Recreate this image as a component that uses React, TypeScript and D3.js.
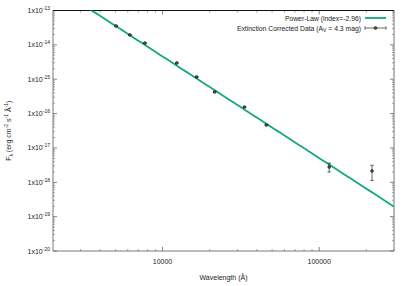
import React from 'react';
import * as d3 from 'd3';

// photometry, extinction corrected (A_V = 4.3 mag)
const bands = ['V', 'R', 'I', 'J', 'H', 'K', 'W1', 'W2', 'W3', 'W4'];
const wavelength = [5050, 6190, 7720, 12330, 16520, 21500, 33350, 46030, 115800, 217300];
const flux = [3.54e-14, 1.94e-14, 1.13e-14, 2.96e-15, 1.16e-15, 4.25e-16, 1.55e-16, 4.65e-17, 2.79e-18, 2.13e-18];
const fluxErr = [1.0e-15, 5.0e-16, 3.0e-16, 8.0e-17, 3.0e-17, 1.0e-17, 5.0e-18, 1.5e-18, 0.8e-18, 1.0e-18];

// power-law model
const plIndex = -2.96;
const plRefWave = 12350;
const plRefFlux = 2.47e-15;

const yDecades = [-13, -14, -15, -16, -17, -18, -19, -20];
const xMajor = [10000, 100000];

const W = 407;
const H = 286;
const margin = { top: 10.5, right: 13, bottom: 35, left: 53 };
const FONT = 'Liberation Sans, Arial, Helvetica, sans-serif';
const GREEN = '#12a883';

const App: React.FC = () => {
  const x = d3.scaleLog().domain([2000, 300000]).range([margin.left, W - margin.right]);
  const y = d3.scaleLog().domain([1e-20, 1e-13]).range([H - margin.bottom, margin.top]);
  const [x0, x1] = x.range();
  const [y0, y1] = y.range(); // y0 bottom, y1 top

  // minor ticks
  const xMinor: number[] = [];
  for (let d = 1000; d <= 100000; d *= 10) {
    for (let k = 2; k <= 9; k++) {
      const v = d * k;
      if (v > 2000 && v <= 300000) xMinor.push(v);
    }
  }
  const yMinor: number[] = [];
  for (let e = -20; e < -13; e++) {
    for (let k = 2; k <= 9; k++) yMinor.push(k * Math.pow(10, e));
  }

  const powerLaw = (l: number) => plRefFlux * Math.pow(l / plRefWave, plIndex);
  const plSamples = d3.range(0, 101).map(i => 2000 * Math.pow(150, i / 100));
  const plLine = d3.line<number>()
    .x(l => x(l))
    .y(l => y(powerLaw(l)));

  const pts = wavelength.map((l, i) => ({ band: bands[i], l, f: flux[i], e: fluxErr[i] }));

  return (
    <svg width={W} height={H} style={{ position: 'absolute', left: 0, top: 0, background: '#fff' }} fontFamily={FONT}>
      <defs>
        <clipPath id="plot">
          <rect x={x0} y={y1} width={x1 - x0} height={y0 - y1} />
        </clipPath>
      </defs>

      {/* y ticks, left and right */}
      {yDecades.map(e => {
        const yy = y(Math.pow(10, e));
        return (
          <g key={e}>
            <line x1={x0} x2={x0 + 4} y1={yy} y2={yy} stroke="#666" strokeWidth={0.8} />
            <line x1={x1} x2={x1 - 4} y1={yy} y2={yy} stroke="#666" strokeWidth={0.8} />
            <text x={x0 - 3} y={yy + 2.5} fontSize={7} textAnchor="end" fill="#222">
              1x10<tspan dy={-3} fontSize={5}>{e}</tspan>
            </text>
          </g>
        );
      })}
      {yMinor.map((v, i) => (
        <g key={i}>
          <line x1={x0} x2={x0 + 2} y1={y(v)} y2={y(v)} stroke="#666" strokeWidth={0.6} />
          <line x1={x1} x2={x1 - 2} y1={y(v)} y2={y(v)} stroke="#666" strokeWidth={0.6} />
        </g>
      ))}

      {/* x ticks, bottom and top */}
      {xMajor.map(v => (
        <g key={v}>
          <line x1={x(v)} x2={x(v)} y1={y0} y2={y0 - 4} stroke="#666" strokeWidth={0.8} />
          <line x1={x(v)} x2={x(v)} y1={y1} y2={y1 + 4} stroke="#666" strokeWidth={0.8} />
          <text x={x(v)} y={y0 + 13} fontSize={7} textAnchor="middle" fill="#222">{v}</text>
        </g>
      ))}
      {xMinor.map(v => (
        <g key={v}>
          <line x1={x(v)} x2={x(v)} y1={y0} y2={y0 - 2} stroke="#666" strokeWidth={0.6} />
          <line x1={x(v)} x2={x(v)} y1={y1} y2={y1 + 2} stroke="#666" strokeWidth={0.6} />
        </g>
      ))}

      {/* frame */}
      <line x1={x0} x2={x0} y1={y1} y2={y0} stroke="#777" strokeWidth={1} />
      <line x1={x1} x2={x1} y1={y1} y2={y0} stroke="#777" strokeWidth={1} />
      <line x1={x0} x2={x1} y1={y0} y2={y0} stroke="#777" strokeWidth={1} />
      <line x1={x0} x2={x1} y1={y1} y2={y1} stroke="#111" strokeWidth={1.2} />

      {/* power-law */}
      <path d={plLine(plSamples) ?? ''} fill="none" stroke={GREEN} strokeWidth={1.8} clipPath="url(#plot)" />

      {/* data with error bars */}
      {pts.map(p => {
        const cx = x(p.l);
        const yt = y(p.f + p.e);
        const yb = y(p.f - p.e);
        return (
          <g key={p.band}>
            <line x1={cx} x2={cx} y1={yt} y2={yb} stroke="#222" strokeWidth={0.7} />
            <line x1={cx - 1.7} x2={cx + 1.7} y1={yt} y2={yt} stroke="#222" strokeWidth={0.7} />
            <line x1={cx - 1.7} x2={cx + 1.7} y1={yb} y2={yb} stroke="#222" strokeWidth={0.7} />
            <circle cx={cx} cy={y(p.f)} r={1.4} fill="#555" stroke="#111" strokeWidth={0.6} />
          </g>
        );
      })}

      {/* legend */}
      <text x={361} y={20.5} fontSize={6.8} textAnchor="end" fill="#222">Power-Law (index=-2.96)</text>
      <line x1={365} x2={386} y1={18} y2={18} stroke={GREEN} strokeWidth={1.8} />
      <text x={361} y={30.5} fontSize={6.8} textAnchor="end" fill="#222">
        Extinction Corrected Data (A<tspan dy={1.5} fontSize={5}>V</tspan><tspan dy={-1.5}> = 4.3 mag)</tspan>
      </text>
      <line x1={365} x2={386} y1={28} y2={28} stroke="#222" strokeWidth={0.7} />
      <line x1={365} x2={365} y1={26.3} y2={29.7} stroke="#222" strokeWidth={0.7} />
      <line x1={386} x2={386} y1={26.3} y2={29.7} stroke="#222" strokeWidth={0.7} />
      <circle cx={375.5} cy={28} r={1.4} fill="#555" stroke="#111" strokeWidth={0.6} />

      {/* axis titles */}
      <text x={(x0 + x1) / 2} y={H - 6} fontSize={7} textAnchor="middle" fill="#222">Wavelength (Å)</text>
      <text transform={`translate(11,${(y0 + y1) / 2}) rotate(-90)`} fontSize={7} textAnchor="middle" fill="#222">
        F<tspan dy={1.5} fontSize={5}>λ</tspan><tspan dy={-1.5}> (erg cm</tspan><tspan dy={-3} fontSize={5}>-2</tspan>
        <tspan dy={3}> s</tspan><tspan dy={-3} fontSize={5}>-1</tspan><tspan dy={3}> Å</tspan>
        <tspan dy={-3} fontSize={5}>-1</tspan><tspan dy={3}>)</tspan>
      </text>
    </svg>
  );
};

export default App;
